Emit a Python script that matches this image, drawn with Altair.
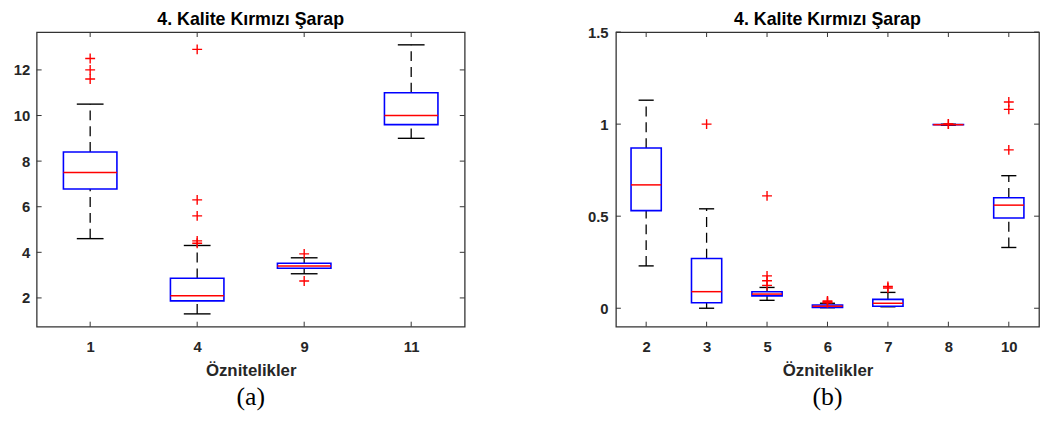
import altair as alt
import pandas as pd

TITLE = "4. Kalite Kırmızı Şarap"
XTITLE = "Öznitelikler"
SANS = "Liberation Sans"
SERIF = "Liberation Serif"
TXT = "#262626"

# ---- panel (a) ----
a_labels = ["1", "4", "9", "11"]
a_lo = [4.6, 1.3, 3.06, 9.0]
a_q1 = [6.78, 1.87, 3.30, 9.6]
a_med = [7.5, 2.1, 3.40, 10.0]
a_q3 = [8.4, 2.86, 3.52, 11.0]
a_hi = [10.5, 4.3, 3.76, 13.1]
a_out_cat = ["1", "1", "1", "4", "4", "4", "4", "4", "9", "9"]
a_out_val = [12.5, 12.0, 11.6, 12.9, 6.3, 5.6, 4.5, 4.4, 3.93, 2.74]
a_yticks = [2, 4, 6, 8, 10, 12]
a_ydomain = [0.74, 13.66]

# ---- panel (b) ----
b_labels = ["2", "3", "5", "6", "7", "8", "10"]
b_lo = [0.23, 0.0, 0.043, 0.003, 0.008, 0.994, 0.33]
b_q1 = [0.53, 0.03, 0.067, 0.004, 0.011, 0.9965, 0.49]
b_med = [0.67, 0.09, 0.077, 0.011, 0.027, 0.997, 0.56]
b_q3 = [0.87, 0.27, 0.090, 0.018, 0.048, 0.9975, 0.60]
b_hi = [1.13, 0.54, 0.113, 0.027, 0.086, 0.9995, 0.72]
b_out_cat = ["3", "5", "5", "5", "5", "6", "6", "6", "7", "7", "8", "8", "10", "10", "10"]
b_out_val = [1.0, 0.61, 0.176, 0.149, 0.124, 0.04, 0.035, 0.03, 0.118, 0.11, 1.0, 1.001, 1.12, 1.08, 0.86]
b_yticks = [0, 0.5, 1, 1.5]
b_ydomain = [-0.1, 1.5]


def make_panel(labels, lo, q1, med, q3, hi, out_cat, out_val, ydomain, yticks,
               caption, width, height, ylabpad):
    n = len(labels)
    pos = list(range(1, n + 1))
    idx = {l: i + 1 for i, l in enumerate(labels)}
    st = pd.DataFrame({"p": pos, "lo": lo, "q1": q1, "med": med, "q3": q3, "hi": hi})
    st["bl"] = st.p - 0.25
    st["br"] = st.p + 0.25
    st["cl"] = st.p - 0.125
    st["cr"] = st.p + 0.125

    whisk = pd.concat([
        pd.DataFrame({"x": st.p, "y": st.q3, "y2": st.hi}),
        pd.DataFrame({"x": st.p, "y": st.lo, "y2": st.q1}),
    ])
    caps = pd.concat([
        pd.DataFrame({"x": st.cl, "x2": st.cr, "y": st.hi}),
        pd.DataFrame({"x": st.cl, "x2": st.cr, "y": st.lo}),
    ])
    boxes = pd.DataFrame({"x": st.bl, "x2": st.br, "y": st.q1, "y2": st.q3})
    meds = pd.DataFrame({"x": st.bl, "x2": st.br, "y": st.med})
    outs = pd.DataFrame({"x": [idx[c] for c in out_cat], "y": out_val})

    xs = alt.Scale(domain=[0.5, n + 0.5], nice=False, zero=False)
    ys = alt.Scale(domain=ydomain, nice=False, zero=False)
    label_expr = "[" + ",".join(f"'{l}'" for l in labels) + "][datum.value-1]"
    xaxis = alt.Axis(values=pos, labelExpr=label_expr, title=XTITLE, grid=False,
                     ticks=False, domain=False, labelFont=SANS, labelFontSize=15,
                     labelFontWeight="bold", labelColor=TXT, labelPadding=13,
                     labelAngle=0, titleFont=SANS, titleFontSize=17,
                     titleFontWeight="bold", titleColor=TXT, titlePadding=8)
    yaxis = alt.Axis(values=yticks, format="~g", title=None, grid=False,
                     ticks=False, domain=False, labelFont=SANS, labelFontSize=15,
                     labelFontWeight="bold", labelColor=TXT, labelPadding=ylabpad)

    def X(f="x"):
        return alt.X(f"{f}:Q", scale=xs, axis=xaxis)

    def Y(f="y"):
        return alt.Y(f"{f}:Q", scale=ys, axis=yaxis)

    ytk = pd.DataFrame({"y": yticks})
    xtk = pd.DataFrame({"x": pos})
    tick_style = dict(color="#333333", strokeWidth=1)
    ytl = alt.Chart(ytk).mark_rule(**tick_style).encode(y=Y(), x=alt.value(0), x2=alt.value(5))
    ytr = alt.Chart(ytk).mark_rule(**tick_style).encode(y=Y(), x=alt.value(width), x2=alt.value(width - 5))
    xtb = alt.Chart(xtk).mark_rule(**tick_style).encode(x=X(), y=alt.value(height), y2=alt.value(height - 5))
    xtt = alt.Chart(xtk).mark_rule(**tick_style).encode(x=X(), y=alt.value(0), y2=alt.value(5))

    whisk_l = alt.Chart(whisk).mark_rule(color="black", strokeWidth=1.3, strokeDash=[10, 6]).encode(
        x=X(), y=Y(), y2="y2")
    cap_l = alt.Chart(caps).mark_rule(color="black", strokeWidth=1.4).encode(x=X(), x2="x2", y=Y())
    box_l = alt.Chart(boxes).mark_rect(filled=False, color="#0000ff", strokeWidth=1.6).encode(
        x=X(), x2="x2", y=Y(), y2="y2")
    med_l = alt.Chart(meds).mark_rule(color="#ff0000", strokeWidth=1.5).encode(x=X(), x2="x2", y=Y())
    out_l = alt.Chart(outs).mark_point(shape="M-1,0H1M0,-1V1", size=100, filled=False,
                                       color="#ff0000", strokeWidth=1.4, opacity=1).encode(x=X(), y=Y())
    title_txt = alt.Chart(pd.DataFrame({"t": [TITLE]})).mark_text(
        font=SANS, fontSize=18, fontWeight="bold", baseline="alphabetic", align="center", color="black"
    ).encode(text="t:N", x=alt.value(width / 2), y=alt.value(-7))
    cap_txt = alt.Chart(pd.DataFrame({"t": [caption]})).mark_text(
        font=SERIF, fontSize=26, baseline="alphabetic", align="center", color="black"
    ).encode(text="t:N", x=alt.value(width / 2), y=alt.value(height + 79))

    return alt.layer(ytl, ytr, xtb, xtt, whisk_l, cap_l, box_l, med_l, out_l,
                     title_txt, cap_txt).properties(width=width, height=height)


pa = make_panel(a_labels, a_lo, a_q1, a_med, a_q3, a_hi, a_out_cat, a_out_val,
                a_ydomain, a_yticks, "(a)", 433, 298, 7)
pb = make_panel(b_labels, b_lo, b_q1, b_med, b_q3, b_hi, b_out_cat, b_out_val,
                b_ydomain, b_yticks, "(b)", 428, 298, 8)

chart = alt.hconcat(pa, pb, spacing=121).properties(
    padding={"left": 4, "top": 0, "right": 0, "bottom": 0},
    background="white",
).configure_view(stroke="#333333", strokeWidth=1.3)

chart.save("out.html", embed_options={"renderer": "svg", "actions": False})
